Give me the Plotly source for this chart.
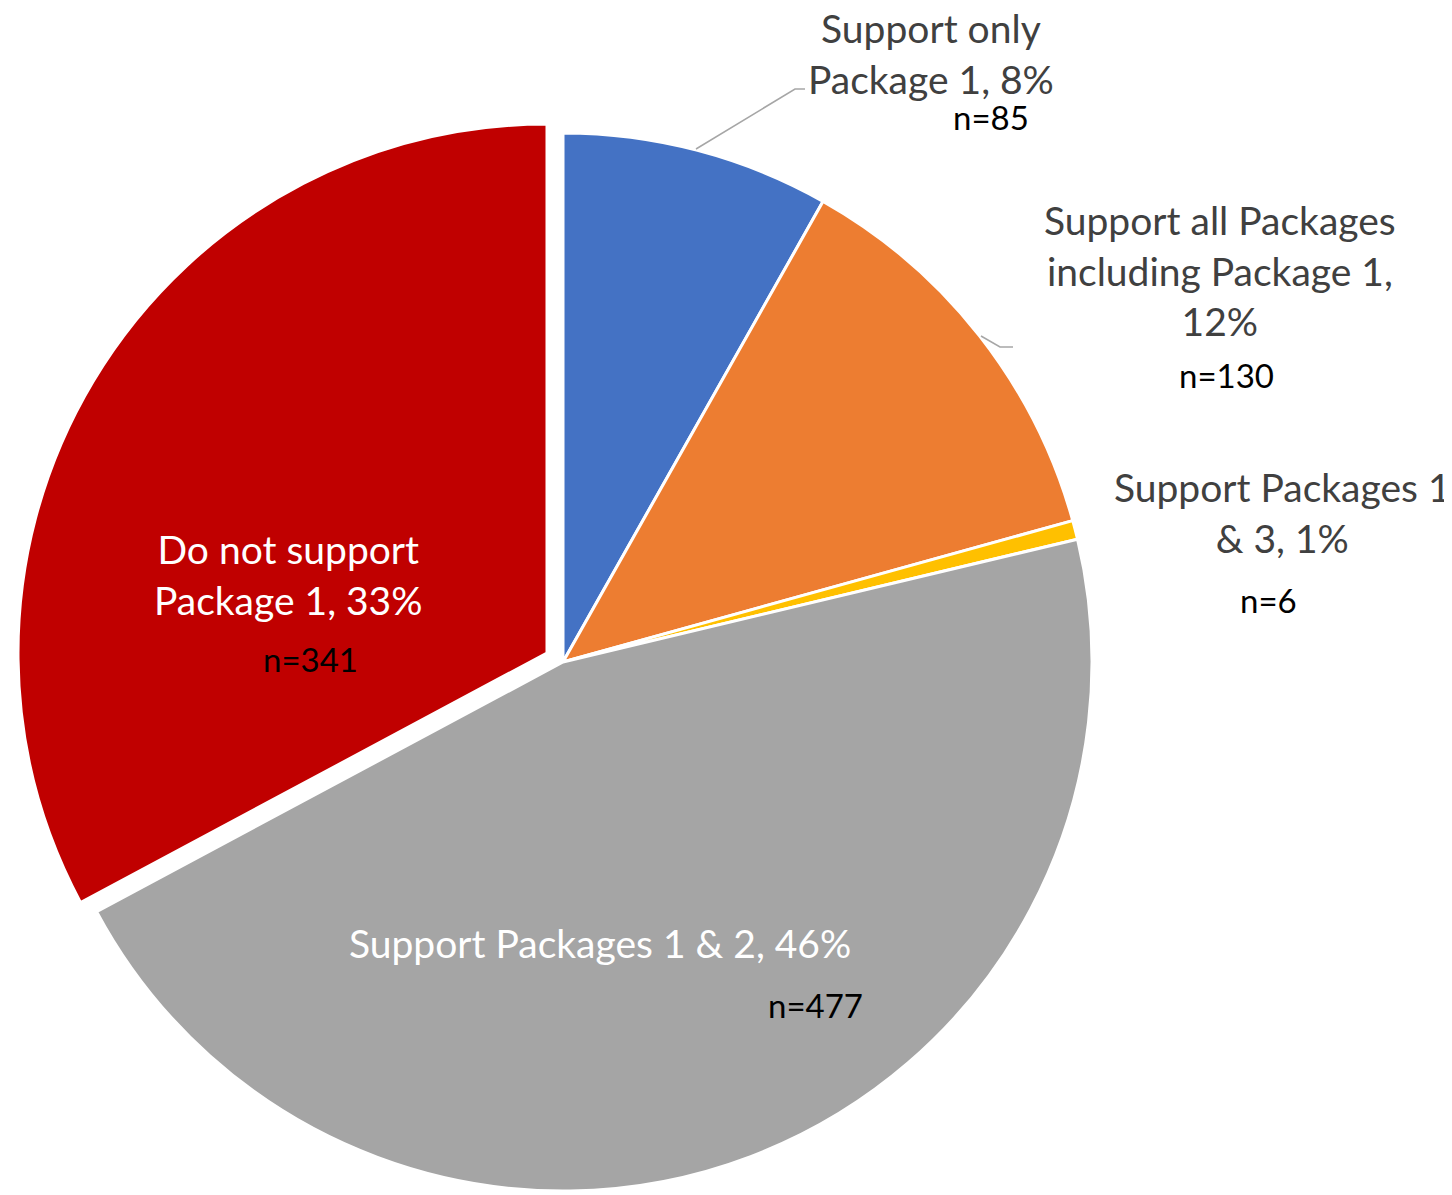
import plotly.graph_objects as go

# ---- data ----
categories = ["Support only Package 1",
              "Support all Packages including Package 1",
              "Support Packages 1 & 3",
              "Support Packages 1 & 2",
              "Do not support Package 1"]
counts = [85, 130, 6, 477, 341]
percents = [8, 12, 1, 46, 33]
colors = ["#4472C4", "#ED7D31", "#FFC000", "#A5A5A5", "#C00000"]

# display wrapping of the category names
display_names = ["Support only<br>Package 1",
                 "Support all Packages<br>including Package 1",
                 "Support Packages 1<br>& 3",
                 "Support Packages 1 & 2",
                 "Do not support<br>Package 1"]
separators = [", ", ",<br>", ", ", ", ", ", "]
label_colors = ["#404040", "#404040", "#404040", "white", "white"]

W, H = 1452, 1195
OFF = 8          # page body margin
FONT = "Lato"

def px(x, y):
    return (x - OFF) / W, 1 - (y - OFF) / H

# geometry (page pixels)
cx, cy, r = 563, 662, 529
pull_dx, pull_dy = -16, -9   # exploded red slice offset

def domain(cx_, cy_, r_):
    x0, y0 = px(cx_ - r_, cy_ + r_)
    x1, y1 = px(cx_ + r_, cy_ - r_)
    return dict(x=[x0, x1], y=[y0, y1])

transparent = "rgba(0,0,0,0)"
main_colors = colors[:-1] + [transparent]
main_lines = ["white"] * 4 + [transparent]
red_colors = [transparent] * 4 + [colors[-1]]
red_lines = [transparent] * 4 + ["white"]

fig = go.Figure()
fig.add_trace(go.Pie(
    labels=categories, values=counts, sort=False, direction="clockwise",
    rotation=0, textinfo="none", hoverinfo="label+value",
    marker=dict(colors=main_colors, line=dict(color=main_lines, width=3)),
    domain=domain(cx, cy, r), showlegend=False))
fig.add_trace(go.Pie(
    labels=categories, values=counts, sort=False, direction="clockwise",
    rotation=0, textinfo="none", hoverinfo="skip",
    marker=dict(colors=red_colors, line=dict(color=red_lines, width=3)),
    domain=domain(cx + pull_dx, cy + pull_dy, r), showlegend=False))

# label positions (page pixel centres)
label_pos = [(931, 53), (1220, 270), (1282, 512), (600, 943), (288, 574)]
n_pos = [(991, 117), (1226, 375), (1268, 600), (815, 1005), (310, 659)]

annotations = []
for i in range(len(categories)):
    x, y = px(*label_pos[i])
    annotations.append(dict(
        x=x, y=y, xref="paper", yref="paper", xanchor="center", yanchor="middle",
        showarrow=False, align="center",
        text=f"{display_names[i]}{separators[i]}{percents[i]}%",
        font=dict(family=FONT, size=39, color=label_colors[i])))
    x, y = px(*n_pos[i])
    annotations.append(dict(
        x=x, y=y, xref="paper", yref="paper", xanchor="center", yanchor="middle",
        showarrow=False, text=f"n={counts[i]}",
        font=dict(family=FONT, size=33, color="black")))

# leader lines
leaders = [[(696, 149), (795, 89), (805, 89)],
           [(981, 336), (1000, 347), (1013, 347)]]
shapes = []
for pts in leaders:
    path = ""
    for j, (x, y) in enumerate(pts):
        X, Y = px(x, y)
        path += ("M" if j == 0 else "L") + f"{X},{Y} "
    shapes.append(dict(type="path", xref="paper", yref="paper", path=path.strip(),
                       line=dict(color="#A6A6A6", width=1.5)))

fig.update_layout(width=W, height=H, margin=dict(l=0, r=0, t=0, b=0),
                  paper_bgcolor="white", plot_bgcolor="white",
                  annotations=annotations, shapes=shapes, showlegend=False)

fig.write_html("out.html")
